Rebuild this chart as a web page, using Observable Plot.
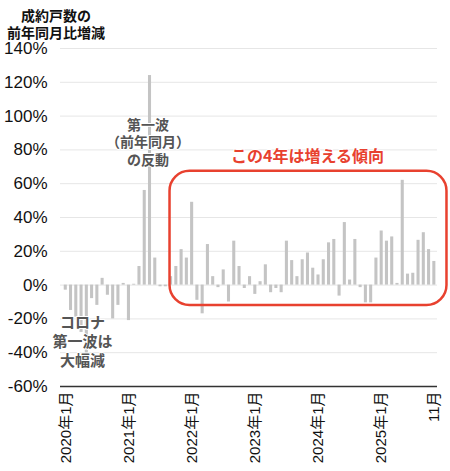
<!DOCTYPE html>
<html><head><meta charset="utf-8">
<script src="https://cdn.jsdelivr.net/npm/d3@7"></script>
<script src="https://cdn.jsdelivr.net/npm/@observablehq/plot@0.6"></script>
<style>
body{margin:0;background:#fff;position:relative;}
#title{position:absolute;left:0;top:0;font-family:"Noto Sans CJK JP",sans-serif;font-weight:700;font-size:14px;line-height:17px;width:112px;text-align:center;padding-top:7px;box-sizing:border-box;color:#111;z-index:2;}
</style></head><body>
<div id="title">成約戸数の<br>前年同月比増減</div>
<div id="chart"></div>
<script>
// 前年同月比増減 (%), 2020年1月〜2025年11月
const values = [
  -3, -15, -19, -28, -49, -8, -12, 4, -6, -20, -12, 1,        // 2020
  -21, 0.5, 11, 56, 124, 16, -1, -1, 5, 11, 21, 16,          // 2021
  49, -9, -17, 24, 5, -1.5, 9, -10, 26, 11, -2, 5,           // 2022
  -5.5, 2, 12, -4.5, -2, -4.5, 26, 14.5, 5, 15, 19, 10,      // 2023
  6, 15, 25, 27, -6.5, 37, 3, 27, -1.5, -10.5, -10.5, 16,    // 2024
  32, 26, 28.5, 1, 62, 6.5, 7, 26.5, 31, 21, 14              // 2025
];
const monthIndex = values.map((v, i) => i);
const xTicks = [0, 12, 24, 36, 48, 60, 70];
const xTickLabels = ["2020年1月", "2021年1月", "2022年1月", "2023年1月", "2024年1月", "2025年1月", "11月"];
const yTicks = [-60, -40, -20, 0, 20, 40, 60, 80, 100, 120, 140];
const gridTicks = [-40, -20, 0, 20, 40, 60, 80, 100, 120, 140];

// annotations (in data coordinates)
const boxX = [19.8, 72.4];
const boxY = [-12.1, 67.4];
const notes = [
  {x: 15.6, y: 85, text: "第一波\n（前年同月）\nの反動", fill: "#555", size: 14, lh: 1.25},
  {x: 3.2, y: -32.8, text: "コロナ\n第一波は\n大幅減", fill: "#555", size: 15, lh: 1.27},
  {x: 45.9, y: 76.7, text: "この4年は増える傾向", fill: "#e8412f", size: 16, lh: 1.2}
];

const data = monthIndex.map(i => ({i, v: values[i]}));

const chart = Plot.plot({
  width: 450, height: 471,
  marginLeft: 60, marginRight: 13, marginTop: 48, marginBottom: 85,
  style: {fontFamily: "'Liberation Sans','Noto Sans CJK JP',sans-serif", background: "#fff"},
  x: {type: "linear", domain: [-1, 70.6], axis: null},
  y: {domain: [-60, 140], axis: null},
  marks: [
    Plot.ruleY(gridTicks, {stroke: "#e6e6e6", strokeWidth: 1}),
    Plot.rect(data, {x1: d => d.i - 0.5, x2: d => d.i + 0.5, y1: 0, y2: "v", fill: "#c4c4c4", insetLeft: 1.1, insetRight: 1.1}),
    Plot.ruleY([-60], {stroke: "#333", strokeWidth: 1.5}),
    Plot.axisY(yTicks, {tickSize: 0, tickPadding: 13, tickFormat: d => `${d}%`, fontSize: 17, fill: "#111", label: null}),
    Plot.axisX(xTicks, {tickSize: 0, tickPadding: 5, tickRotate: -90, tickFormat: d => xTickLabels[xTicks.indexOf(d)], fontSize: 15, fill: "#111", label: null}),
    Plot.rect([0], {x1: boxX[0], x2: boxX[1], y1: boxY[0], y2: boxY[1], rx: 20, fill: "none", stroke: "#e8412f", strokeWidth: 2.5}),
    ...notes.map(n => Plot.text([n], {x: "x", y: "y", text: "text", fill: n.fill, fontSize: n.size, lineHeight: n.lh, fontWeight: 700, fontFamily: "Noto Sans CJK JP", stroke: "white", strokeWidth: 2}))
  ]
});
document.getElementById("chart").appendChild(chart);
</script>
</body></html>
